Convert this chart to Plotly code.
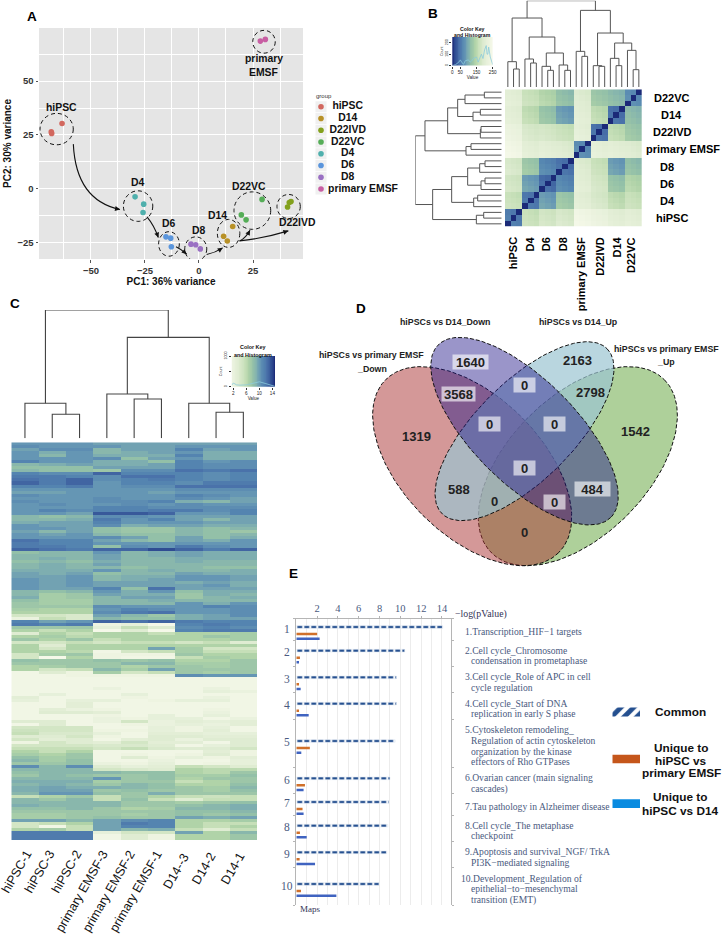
import numpy as np
import plotly.graph_objects as go

W, H = 723, 937
SANS = "Liberation Sans"
SERIF = "Liberation Serif"

# ---------- Panel A data ----------
GROUPS = ["hiPSC", "D14", "D22IVD", "D22VC", "D4", "D6", "D8", "primary EMSF"]
GROUP_COLORS = ["#d2685f", "#b89127", "#83a11d", "#55ad57", "#4fb0ad", "#5a95dc", "#9a70c3", "#c85ea3"]
PC1 = {
    "hiPSC": [-68.4, -68.2, -63.4], "D14": [15.6, 11.4, 13.1], "D22IVD": [42.6, 41.8, 41.0],
    "D22VC": [29.2, 19.6, 21.8], "D4": [-29.6, -25.6, -25.9], "D6": [-15.3, -13.1, -12.8],
    "D8": [-3.7, -1.5, 0.6], "primary EMSF": [28.4, 30.7],
}
PC2 = {
    "hiPSC": [26.4, 25.7, 30.3], "D14": [-17.6, -22.1, -24.3], "D22IVD": [-6.0, -6.4, -8.5],
    "D22VC": [-5.0, -12.2, -14.5], "D4": [-3.8, -7.2, -11.1], "D6": [-22.4, -23.0, -27.0],
    "D8": [-25.8, -26.1, -28.0], "primary EMSF": [68.6, 69.4],
}
# ---------- Panel B data ----------
B_ORDER = ["hiPSC", "D4", "D6", "D8", "primary EMSF", "D22IVD", "D14", "D22VC"]
B_DIST = [
    [55, 165, 178, 185, 240, 225, 205, 205],
    [165, 50, 85, 125, 205, 185, 155, 165],
    [178, 85, 40, 65, 205, 180, 120, 145],
    [185, 125, 65, 45, 195, 165, 85, 115],
    [240, 205, 205, 195, 70, 210, 205, 195],
    [225, 185, 180, 165, 210, 45, 155, 125],
    [205, 155, 120, 85, 205, 155, 45, 110],
    [205, 165, 145, 115, 195, 125, 110, 70],
]
B_SAMPLE_SHIFT = [4, 0, -4]
B_TREE = (259,
          (207, (76, 0, (54, 1, 2)),
           (150, (84, 3, (72, 4, 5)), (102, (62, 6, (50, 7, 8)), (66, 9, (50, 10, 11))))),
          (230, (107, 12, (92, 13, 14)),
           (162, (64, 15, (62, 16, 17)), (132, (86, 18, (64, 19, 20)), (110, 21, (52, 22, 23))))))
B_HIST_X = [0, 20, 40, 50, 60, 70, 80, 100, 110, 120, 130, 150, 160, 170, 180, 190, 200, 210, 215, 220, 225, 235, 245, 250]
B_HIST_Y = [0, 8, 30, 50, 25, 12, 42, 50, 30, 40, 62, 75, 30, 70, 100, 62, 138, 175, 100, 100, 162, 75, 25, 8]
# ---------- Panel C data ----------
C_COLS = ["hiPSC-1", "hiPSC-3", "hiPSC-2", "primary EMSF-3", "primary EMSF-2", "primary EMSF-1", "D14--3", "D14-2", "D14-1"]
C_TREE = (385, (105, 0, (72, 1, 2)), (303, (133, 3, (118, 4, 5)), (105, 6, (78, 7, 8))))
C_HIST_X = [1.5, 2, 3, 4, 6, 8, 10, 12, 14, 14.8]
C_HIST_Y = [0.05, 0.12, 0.06, 0.05, 0.06, 0.12, 0.16, 0.1, 0.03, 0.01]
C_ROWS = [
[9.5,9.5,9.5,9,9,9,9,9,9],[10,9.5,9.5,9.5,9,9,9.5,9.5,9.5],[9,10,10,8,9,9,10.5,9,9.5],[9.5,8.5,9.5,8,8.5,9,9.5,8.5,8.5],
[9.5,8,9.5,8.5,8.5,8.5,10.5,8.5,8.5],[9.5,9.5,9.5,10,7.5,9,9.5,8.5,8.5],[10.5,9.5,9.5,8.5,8.5,7.5,10.5,9.5,10],[8,8.5,9,8.5,8.5,9,10.5,10,10],
[7.5,7.5,7.5,9,9,9,10.5,10,10],[8,7.5,7.5,7,10,10,11.5,11,11.5],[10.5,10,10,12,10.5,10.5,10.5,10,10.5],[11,11,10.5,10,11.5,11.5,10.5,10,10.5],
[11.5,11,12,10,10.5,11,10.5,10,10.5],[12,11,12,9.5,10.5,10.5,10,11,11],[10.5,10.5,11,9.5,10,10,11.5,11.5,11.5],[9.5,9.5,9.5,9.5,9.5,9.5,10,10,10],
[9,9,9.5,9.5,9.5,9,9.5,9.5,9.5],[10,9.5,9.5,9.5,9.5,9.5,10.5,10,9.5],[9.5,9.5,9.5,10,9.5,9.5,10,9.5,9],[10,9.5,9.5,10,10,10.5,8.5,8,9],
[9.5,10,9.5,9.5,10,9.5,10,9.5,9.5],[9.5,9.5,9.5,10.5,10.5,10,10,10,10],[9.5,10.5,10,10.5,10.5,11,11,10,10.5],[9.5,9.5,9,12.5,12.5,12,9.5,9.5,10.5],
[8,7.5,8,10,10,9.5,9,9,9],[8,8,8.5,11,9.5,10.5,9,8,9],[8.5,9,9,10.5,9.5,9.5,9.5,9,9],[9.5,9,9,10,8.5,9,9,8.5,8.5],
[9.5,9.5,9,7.5,7,7,8,7.5,8],[9,8,9,7.5,7,7,8,7.5,7],[9.5,9,9.5,8,7.5,7.5,8,7.5,8],[9.5,9.5,9.5,10,9,7.5,9,7.5,8.5],
[11.5,10.5,10.5,9,8,7.5,9,8.5,9.5],[11,10.5,10.5,9.5,9.5,9.5,9.5,9.5,9.5],[11,11,10.5,7.5,10,9.5,11,10,9.5],[12,11.5,11,12,12,13,12,11,12],
[7.5,8,8,9.5,8,8.5,9,8.5,8.5],[8,8,8,9,8,8.5,9,8.5,8.5],[8,8.5,8,9,8,8,8.5,8.5,8.5],[7.5,8,7.5,8.5,8,8,8.5,8,8],
[8,8.5,8,9,8,8,8,8,8],[8,8.5,8,8,7.5,8,8,7.5,7.5],[8.5,8.5,8.5,9.5,8,8.5,8,8,8.5],[9,8.5,9,7.5,8,8,9,8.5,8.5],
[9,9,9.5,8,8.5,8.5,9.5,9.5,9],[9.5,9,9.5,8,8.5,9,9.5,9.5,9],[9.5,9,9.5,9,9,9,8.5,9,8.5],[9.5,9,9.5,9,9,9,9,9.5,8.5],
[9.5,9,9,10.5,7.5,11.5,9,9,9],[8,7.5,8,9.5,8.5,9.5,7.5,8.5,8.5],[8,6.5,7,9,8.5,8.5,7,8.5,8],[8.5,6.5,7,8,9,9,7,8,8.5],
[7.5,6.5,6.5,8,8,8.5,8,8,8],[7,6.5,6.5,8,8,8,9.5,8.5,9.5],[7,7,7,10,9.5,9.5,9.5,10.5,10],[6.5,6,6,9.5,10.5,10,9.5,9.5,10],
[6,6,6,10,11,11.5,9.5,9.5,10],[4,4,3.5,9,8,7,8.5,9,10],[1.5,5,3.5,8,7.5,7.5,8.5,9,9],[10.5,9,9.5,12,11.5,12,11,10.5,10.5],
[11,10.5,11,1,2,0,10.5,11,10.5],[7,7,7,2,5,3,10,10.5,10],[6,5,6,0,3,0,10.5,11,11],[3,6,5,6,6,5,6,6,6.5],
[6,6.5,5.5,6,6,6,6,7,6.5],[7,6,7,5,6,6,6,6,6.5],[4,4,5,4,5,5,4,5,3],[6,3,6,6,6,6,6,6,6],
[6,4,6,6,6,9,6.5,4,4],[6,6,5.5,0.5,4,5,6.5,5,5],[4,6.5,7,1,1,1,7,6,6],[4,0,6,1,0.5,0.5,5,6.5,6],
[7.5,7,7,7.5,7,7.5,6,6,7],[7,7,7,7,8,8,6.5,6.5,7],[6,6.5,7,7,6,7,7,6.5,7],[6,4,5,8,6.5,9,7,7,7],
[0.5,3,1,6.5,4,5,7,6.5,7],[0.5,0.5,1,1,1,1,10,9.5,9.5],[0.5,0.5,0.5,0.5,0.5,0.5,0.5,0.5,0.5],[0.5,0.5,0.5,0.5,0.5,0.5,0.5,0.5,0.5],
[0.5,0.5,0.5,0.5,0.5,0.5,0.5,0.5,0.5],[0.5,0.5,0.5,1.5,0.5,0.5,0.5,1.5,0.5],[0.5,0.5,0.5,0.5,0.5,0.5,0.5,2,1.5],[0.5,2,0.5,0.5,2,0.5,0.5,0.5,0.5],
[2.5,0.5,0.5,0.5,1,0.5,0.5,1.5,0.5],[2,0.5,2,2,0.5,1,2,2,0.5],[0.5,0.5,2.5,0.5,0.5,0.5,0.5,0.5,0.5],[0.5,0.5,2.5,0.5,0.5,0.5,0.5,0.5,0.5],
[0.5,2.5,1.5,1,0.5,0.5,0.5,1,0.5],[0.5,3,3,2.5,0.5,0.5,0.5,1.5,0.5],[0.5,0.5,0.5,1,0.5,2,0.5,2,0.5],[0.5,0.5,0.5,1.5,1,2,2,0.5,1.5],
[3,3,0.5,1.5,4,1.5,2.5,2,2.5],[0.5,3,0.5,0.5,1,1.5,2,1.5,2.5],[4,4,4,0.5,0.5,2,1,2,0.5],[4.5,4,4,1,1,2,1,2.5,0.5],
[5,3.5,3.5,2,0.5,2.5,2.5,2,2],[3,3,4,1,0.5,3,3,2.5,2.5],[4,2.5,3,0.5,2.5,3,1.5,3,3],[1,4,3,2.5,4,2.5,2.5,0.5,3],
[4,4,4,3.5,3.5,3,0.5,2,3],[5,5,5,4,5,3.5,3,3,4],[6,5,6,0.5,0.5,0.5,0.5,2.5,1],[6.5,6,7,0.5,1,0.5,1,3,1],
[7.5,6.5,7,0.5,3,1,2,1,2.5],[8,6.5,7.5,0.5,0.5,1.5,0.5,0.5,2],[7,7,7.5,1.5,1,2,0.5,1,2],[10,8,10,3,2,2.5,5,4,3],
[8,8,8,4,3.5,3,6,5.5,5.5],[7.5,8,8,8,7.5,7.5,6,5.5,7],[7,8,7.5,7,7,7.5,6.5,6.5,7.5],[8,8,8,9.5,7,7.5,6,7,7],
[8.5,8.5,8.5,6.5,7,7,5,6,7],[8,8.5,8,7,8,7.5,6,6,7.5],[8.5,9,8.5,8.5,8,7.5,7,6.5,8],[8.5,9,9,7,7.5,7,7,6.5,7.5],
[8,9.5,9.5,7.5,7,8.5,7,7,7],[5,6,7,5,7,6,5,4.5,5],[8,7,8,5,7.5,5,3,5,5],[8,8,8,8,7,7,6.5,7,7.5],
[8.5,8,8,8,7,7,7.5,8,8.5],[7.5,7.5,8,7,6,6.5,8,8,8.5],[7,7,7,7,7,7,7.5,7.5,8],[6.5,6.5,7,7,6.5,7,7.5,7,7.5],
[6.5,6.5,7,7.5,7,7,9,8.5,9],[9,9,8,9,10,10.5,6,6,6.5],[4,5,6,9,11,10.5,6,5,5],[4,0.5,5,9,10.5,10.5,6,5,6],
[6,6.5,5,9,8,8.5,5,3,5],[11,11,11,2,4,4,9,6,8],[11,11,11,0.5,3,1,6,6,7],[11,11,11,0.5,3,1,6,6,7],
]
# ---------- Panel D data ----------
VENN_SETS = ["hiPSCs vs primary EMSF_Up", "hiPSCs vs primary EMSF_Down", "hiPSCs vs D14_Up", "hiPSCs vs D14_Down"]
VENN_ELLIPSES = [(833.5, 498.5, 367, 209, -45), (516.5, 498.5, 367, 209, 45),
                 (673.5, 393.5, 350, 147, -45), (673.5, 393.5, 366, 156, 45)]
VENN_FILLS = ["rgba(93,161,53,0.5)", "rgba(169,49,49,0.5)", "rgba(155,196,210,0.7)", "rgba(31,20,135,0.45)"]
VENN_COUNTS = ["1640", "2163", "3568", "0", "2798", "1319", "1542", "0", "0", "0", "588", "484", "0", "0", "0"]
VENN_X = [512, 832, 476, 674, 872, 349, 1005, 569, 764, 674, 476, 878, 584, 762, 674]
VENN_Y = [186, 180, 281, 254, 277, 408, 393, 371, 371, 503, 568, 567, 605, 605, 698]
VENN_BOX = [35, 0, 33, 21, 0, 0, 0, 21, 21, 21, 0, 35, 0, 21, 0]
# ---------- Panel E data ----------
E_COMMON = [14.07, 10.42, 9.62, 9.62, 9.49, 9.0, 8.9, 8.8, 8.69, 7.95]
E_EMSF = [2.0, 0.35, 0.26, 0.26, 1.3, 0.83, 0.6, 0.35, 0.32, 0.45]
E_D14 = [2.24, 0.26, 0.42, 1.19, 0.48, 0.7, 0.7, 1.0, 1.8, 3.85]
E_NAMES = ["1", "2", "3", "4", "5", "6", "7", "8", "9", "10"]
E_BOUNDS = [86, 150, 230, 308, 388, 532, 610, 676, 754, 833, 945]
E_BAR_ROW = [111, 182, 262, 341, 453, 565, 636, 707, 787, 882]
E_NAME_ROW = [116, 187, 266, 345, 457, 569, 640, 712, 791, 887]
E_TERMS = [
    ["1.Transcription_HIF\u22121 targets"],
    ["2.Cell cycle_Chromosome", "condensation in prometaphase"],
    ["3.Cell cycle_Role of APC in cell", "cycle regulation"],
    ["4.Cell cycle_Start of DNA", "replication in early S phase"],
    ["5.Cytoskeleton remodeling_", "Regulation of actin cytoskeleton", "organization by the kinase", "effectors of Rho GTPases"],
    ["6.Ovarian cancer (main signaling", "cascades)"],
    ["7.Tau pathology in Alzheimer disease"],
    ["8.Cell cycle_The metaphase", "checkpoint"],
    ["9.Apoptosis and survival_NGF/ TrkA", "PI3K\u2212mediated signaling"],
    ["10.Development_Regulation of", "epithelial\u2212to\u2212mesenchymal", "transition (EMT)"],
]
E_TERM_Y = [125, 180, 259, 339, 418, 563, 650, 705, 785, 864]

# ---------- shared palette ----------
PAL = [(0, "#f5f8e9"), (3, "#dfecd2"), (5, "#c6dfb8"), (6, "#b0d3a8"), (7.5, "#93c0a8"), (8.5, "#7eaeb0"),
       (9.5, "#6596b4"), (10.5, "#5484b0"), (11.5, "#4a72aa"), (13, "#2f4c92"), (14, "#1b2a78")]
SCALE_C = [[v / 14, c] for v, c in PAL]
SCALE_B = sorted([[1 - v / 14, c] for v, c in PAL], key=lambda s: s[0])

fig = go.Figure()
layout = {}
notes = []
shapes = []


def axes(n, left, right, top, bottom, xo=None, yo=None):
    s = "" if n == 1 else str(n)
    x = dict(domain=[left / W, right / W], anchor="y" + s, showgrid=False, zeroline=False, visible=False, automargin=False)
    y = dict(domain=[1 - bottom / H, 1 - top / H], anchor="x" + s, showgrid=False, zeroline=False, visible=False, automargin=False)
    x.update(xo or {})
    y.update(yo or {})
    layout["xaxis" + s] = x
    layout["yaxis" + s] = y
    return dict(xaxis="x" + s, yaxis="y" + s)


def note(text, px, py, size=10, bold=False, color="#111111", family=SANS, angle=0, xa="center", ya="middle"):
    notes.append(dict(text=text, x=px / W, y=1 - py / H, xref="paper", yref="paper", showarrow=False,
                      xanchor=xa, yanchor=ya, textangle=angle,
                      font=dict(size=size, color=color, family=family, weight="bold" if bold else "normal")))


def dendro(node, xs, ys):
    if not isinstance(node, tuple):
        return node, 0
    h, l, r = node
    pl, hl = dendro(l, xs, ys)
    pr, hr = dendro(r, xs, ys)
    xs += [pl, pl, pr, pr, None]
    ys += [hl, h, h, hr, None]
    return (pl + pr) / 2, h


for txt, x, y in [("A", 32, 16), ("B", 433, 13), ("C", 15, 303), ("D", 361, 308), ("E", 293, 573)]:
    note(txt, x, y, size=13.5, bold=True, color="#000000")

# ---------- Panel A ----------
tickf = dict(size=9.5, family=SANS, color="#333333", weight="bold")
titlef = dict(size=10, family=SANS, color="#111111", weight="bold")
a = axes(1, 39, 303, 28, 259,
         dict(visible=True, range=[-74.07, 48.15], tickvals=[-50, -25, 0, 25], showgrid=True, gridcolor="white",
              gridwidth=1, ticks="outside", ticklen=2.5, tickcolor="#555555", tickfont=tickf,
              minor=dict(tickvals=[-62.5, -37.5, -12.5, 12.5, 37.5], showgrid=True, gridcolor="white", gridwidth=0.5, ticks=""),
              title=dict(text="PC1: 36% variance", font=titlef, standoff=3)),
         dict(visible=True, range=[-32.7, 74.7], tickvals=[-25, 0, 25, 50], showgrid=True, gridcolor="white",
              gridwidth=1, ticks="outside", ticklen=2.5, tickcolor="#555555", tickfont=tickf,
              minor=dict(tickvals=[-12.5, 12.5, 37.5, 62.5], showgrid=True, gridcolor="white", gridwidth=0.5, ticks=""),
              title=dict(text="PC2: 30% variance", font=titlef, standoff=3)))
shapes.append(dict(type="rect", xref="x domain", yref="y domain", x0=0, x1=1, y0=0, y1=1, fillcolor="#e5e5e5",
                   line_width=0, layer="below"))
for g, c in zip(GROUPS, GROUP_COLORS):
    fig.add_trace(go.Scatter(x=PC1[g], y=PC2[g], mode="markers", name=g, showlegend=False,
                             marker=dict(size=5.6, color=c), **a))
A_RINGS = [(-65.9, 27.7, 7.7, 7.3), (-28.2, -8.1, 6.8, 7.1), (-13.9, -25.7, 4.8, 5.7), (-1.5, -28, 5.1, 5.6),
           (13.7, -20.8, 5.2, 6.5), (24.7, -10.2, 8.5, 8.7), (41.5, -8.3, 5.4, 5.6), (30.1, 68.3, 5.2, 5.3)]
for cx, cy, rx, ry in A_RINGS:
    shapes.append(dict(type="circle", xref="x", yref="y", x0=cx - rx, x1=cx + rx, y0=cy - ry, y1=cy + ry,
                       line=dict(color="#111111", width=1, dash="4px,3px"), layer="above"))


def zx(z):
    return (z / 3 - 199) / 2.16


def zy(z):
    return (188.5 - z / 3) / 2.15


A_ARROWS = [((220, 432), (228, 600), (360, 628)), ((441, 650), (462, 675), (475, 712)), ((528, 740), (545, 748), (560, 762)),
            ((620, 763), (645, 758), (668, 743)), ((720, 722), (738, 712), (750, 690)), ((718, 722), (790, 715), (865, 692))]
for p0, p1, p2 in A_ARROWS:
    shapes.append(dict(type="path", xref="x", yref="y", line=dict(color="#111111", width=1.1),
                       path=f"M {zx(p0[0])} {zy(p0[1])} Q {zx(p1[0])} {zy(p1[1])} {zx(p2[0])} {zy(p2[1])}"))
    d = np.hypot(p2[0] - p1[0], p2[1] - p1[1])
    notes.append(dict(x=zx(p2[0]), y=zy(p2[1]), xref="x", yref="y", text="", showarrow=True, arrowhead=2, arrowsize=0.9,
                      arrowwidth=1.1, arrowcolor="#111111", ax=-(p2[0] - p1[0]) / d * 6, ay=-(p2[1] - p1[1]) / d * 6))
A_LABELS = [("primary", 791, 177), ("EMSF", 791, 217), ("hiPSC", 183, 321), ("D4", 414, 546), ("D6", 507, 670),
            ("D8", 597, 692), ("D14", 652, 646), ("D22VC", 747, 559), ("D22IVD", 892, 669)]
for t, x, y in A_LABELS:
    note(t, x / 3, y / 3, size=10.4, bold=True)

al = axes(2, 315, 400, 100.8, 194.9, dict(range=[315, 400]),
          dict(type="category", categoryorder="array", categoryarray=GROUPS, range=[7.5, -0.5]))
fig.add_trace(go.Scatter(x=[321] * 8, y=GROUPS, mode="markers", showlegend=False,
                         marker=dict(size=11, symbol="square", color="#f0f0f0"), **al))
fig.add_trace(go.Scatter(x=[321] * 8, y=GROUPS, mode="markers", showlegend=False,
                         marker=dict(size=5.6, color=GROUP_COLORS), **al))
fig.add_trace(go.Scatter(x=[347.7] * 7 + [363], y=GROUPS, text=GROUPS, mode="text", textposition="middle center",
                         showlegend=False, textfont=dict(size=10.4, family=SANS, color="#111111", weight="bold"), **al))
note("group", 324, 96, size=6, color="#333333")

# ---------- Panel B ----------
n_b = len(B_ORDER) * 3
B_Z = [[0 if i == j else B_DIST[i // 3][j // 3] + B_SAMPLE_SHIFT[i % 3] + B_SAMPLE_SHIFT[j % 3]
        for j in range(n_b)] for i in range(n_b)]
bh = axes(3, 505, 641.7, 89.3, 226.7, dict(range=[-0.5, 23.5]), dict(range=[-0.5, 23.5]))
fig.add_trace(go.Heatmap(z=B_Z, colorscale=SCALE_B, zmin=0, zmax=250, showscale=False, **bh))
xs, ys = [], []
dendro(B_TREE, xs, ys)
bt = axes(4, 505, 641.7, 0.7, 87, dict(range=[-0.5, 23.5]), dict(range=[0, 259]))
fig.add_trace(go.Scatter(x=xs, y=ys, mode="lines", showlegend=False, line=dict(color="#555555", width=1), **bt))
bl = axes(5, 415.3, 501.7, 89.3, 226.7, dict(range=[259, 0]), dict(range=[-0.5, 23.5]))
fig.add_trace(go.Scatter(x=ys, y=xs, mode="lines", showlegend=False, line=dict(color="#555555", width=1), **bl))
small = dict(size=4.6, family=SANS, color="#222222")
bk = axes(6, 452.3, 492.7, 37, 65.6,
          dict(visible=True, range=[0, 250], tickvals=[0, 50, 150, 250], ticks="outside", ticklen=2, tickwidth=0.6,
               tickcolor="#333333", tickfont=small, title=dict(text="Value", font=small, standoff=1.5), showline=False),
          dict(visible=True, range=[0, 250], tickvals=[0, 100, 200], ticktext=["0", "100", "200"], ticks="outside", ticklen=2,
               tickwidth=0.6, tickcolor="#333333", tickangle=-90, tickfont=dict(size=3.6, family=SANS, color="#222222"),
               title=dict(text="Count", font=dict(size=3.6, family=SANS, color="#222222"), standoff=1)))
B_KEY_VALUES = list(range(0, 251, 5))
fig.add_trace(go.Heatmap(x=B_KEY_VALUES, y=[0, 250], z=[B_KEY_VALUES, B_KEY_VALUES], colorscale=SCALE_B, zmin=0, zmax=250,
                         showscale=False, **bk))
fig.add_trace(go.Scatter(x=B_HIST_X, y=B_HIST_Y, mode="lines", showlegend=False, line=dict(color="#8ccbdc", width=0.8), **bk))
note("Color Key", 472.5, 28.7, size=5.2, bold=True)
note("and Histogram", 472.5, 35, size=5.2, bold=True)
B_RIGHT_LABELS = ["D22VC", "D14", "D22IVD", "primary EMSF", "D8", "D6", "D4", "hiPSC"]
B_RIGHT_X = [671.7, 671.7, 672, 683, 667, 667, 667, 671.7]
for i, (t, x) in enumerate(zip(B_RIGHT_LABELS, B_RIGHT_X)):
    note(t, x, 97.9 + i * 17.17, size=11, bold=True, color="#000000")
B_BOTTOM_X = [513.3, 529, 546.3, 563.3, 581.3, 599.3, 616, 631]
for t, x in zip(B_ORDER, B_BOTTOM_X):
    note(t, x, 235, size=11, bold=True, color="#000000", angle=-90, ya="top")

# ---------- Panel C ----------
ch = axes(7, 11.3, 257, 442.3, 840, dict(range=[-0.5, 8.5]), dict(range=[len(C_ROWS) - 0.5, -0.5]))
fig.add_trace(go.Heatmap(z=C_ROWS, colorscale=SCALE_C, zmin=0, zmax=14, showscale=False, **ch))
xs, ys = [], []
dendro(C_TREE, xs, ys)
cd = axes(8, 11.3, 257, 310, 438.3, dict(range=[-0.5, 8.5]), dict(range=[0, 385]))
fig.add_trace(go.Scatter(x=xs, y=ys, mode="lines", showlegend=False, line=dict(color="#444444", width=1.1), **cd))
ck = axes(9, 231.7, 275, 356, 386.7,
          dict(visible=True, range=[1.5, 14.8], tickvals=[2, 6, 10, 14], ticks="outside", ticklen=2, tickwidth=0.6,
               tickcolor="#333333", tickfont=small, title=dict(text="Value", font=small, standoff=1.5)),
          dict(visible=True, range=[0, 1], tickvals=[0, 0.5, 1], ticktext=["0", "", "1000"], ticks="outside", ticklen=2,
               tickwidth=0.6, tickcolor="#333333", tickangle=-90, tickfont=dict(size=3.6, family=SANS, color="#222222"),
               title=dict(text="Count", font=dict(size=3.6, family=SANS, color="#222222"), standoff=1)))
C_KEY_VALUES = [1.5 + 0.25 * i for i in range(54)]
fig.add_trace(go.Heatmap(x=C_KEY_VALUES, y=[0, 1], z=[C_KEY_VALUES, C_KEY_VALUES], colorscale=SCALE_C, zmin=0.5, zmax=14.8,
                         showscale=False, **ck))
fig.add_trace(go.Scatter(x=C_HIST_X, y=C_HIST_Y, mode="lines", showlegend=False, line=dict(color="#8ccbdc", width=0.8), **ck))
note("Color Key", 253, 347.5, size=5.4, bold=True)
note("and Histogram", 253, 355, size=5.4, bold=True)
C_END_X = [37, 60, 87, 114, 141, 168, 195, 221, 250]
C_END_Y = [845, 845, 845, 845, 845, 845, 848, 848, 848]
for t, x, y in zip(C_COLS, C_END_X, C_END_Y):
    note(t, x, y, size=12.6, color="#111111", angle=-60, xa="right", ya="top")

# ---------- Panel D ----------
vn = axes(10, 300, 723, 300, 590, dict(range=[0, 1269]), dict(range=[870, 0]))
for name, (cx, cy, ra, rb, rot), fc in zip(VENN_SETS, VENN_ELLIPSES, VENN_FILLS):
    t = np.linspace(0, 2 * np.pi, 181)
    th = np.radians(rot)
    fig.add_trace(go.Scatter(x=cx + ra * np.cos(t) * np.cos(th) - rb * np.sin(t) * np.sin(th),
                             y=cy + ra * np.cos(t) * np.sin(th) + rb * np.sin(t) * np.cos(th),
                             mode="lines", fill="toself", fillcolor=fc, name=name, showlegend=False,
                             line=dict(color="#111111", width=1, dash="4px,2px"), **vn))
for t, x, y, b in zip(VENN_COUNTS, VENN_X, VENN_Y, VENN_BOX):
    d = dict(text=t, x=x, y=y, xref="x10", yref="y10", showarrow=False,
             font=dict(size=13, family=SANS, color="#222222", weight="bold"))
    if b:
        d.update(bgcolor="rgba(255,255,255,0.62)", width=b, height=14, borderpad=0)
    notes.append(d)
for t, x, y in [("hiPSCs vs D14_Down", 435, 67), ("hiPSCs vs D14_Up", 834, 67), ("hiPSCs vs primary EMSF", 215, 166),
                ("_Down", 215, 207), ("hiPSCs vs primary EMSF", 1098, 146), ("_Up", 1098, 187)]:
    note(t, 300 + x / 3, 300 + y / 3, size=8.8, bold=True, color="#222222")

# ---------- Panel E ----------
ink = "#4a5a80"
eb = axes(11, 296.3, 450.7, 618.7, 905,
          dict(visible=True, side="top", range=[0, 14.84], tickvals=list(range(2, 15, 2)), showline=True, linecolor="#b5b5b5",
               linewidth=1, ticks="outside", ticklen=2, tickcolor="#b5b5b5",
               tickfont=dict(size=10.5, family=SERIF, color=ink), showgrid=True, gridcolor="#ececec", gridwidth=0.6,
               minor=dict(dtick=1, showgrid=True, gridcolor="#ececec", gridwidth=0.6, ticks="")),
          dict(visible=True, range=[945, 86], tickvals=E_BOUNDS, ticktext=[""] * len(E_BOUNDS), showline=True,
               linecolor="#b5b5b5", linewidth=1.2, ticks="outside", ticklen=2, tickcolor="#b5b5b5", mirror="ticks"))
fig.add_trace(go.Bar(y=E_BAR_ROW, x=E_COMMON, orientation="h", width=8, showlegend=False, name="Common", opacity=1,
                     marker=dict(color="white", line=dict(color="#e3e9f1", width=0.6),
                                 pattern=dict(shape="|", fgcolor="#244f8f", bgcolor="#f4f7fa", size=7, solidity=0.68, fgopacity=1)), **eb))
fig.add_trace(go.Bar(y=[r + 21 for r in E_BAR_ROW], x=E_EMSF, orientation="h", width=7.5, showlegend=False, opacity=1,
                     name="Unique to hiPSC vs primary EMSF", marker=dict(color="#d0702a", line_width=0), **eb))
fig.add_trace(go.Bar(y=[r + 35 for r in E_BAR_ROW], x=E_D14, orientation="h", width=7.5, showlegend=False, opacity=1,
                     name="Unique to hiPSC vs D14", marker=dict(color="#3f63c0", line_width=0), **eb))
for t, r in zip(E_NAMES, E_NAME_ROW):
    note(t, 280 + 20 / 3, 590 + r / 3, size=11.5, family=SERIF, color=ink)
for lines, y0 in zip(E_TERMS, E_TERM_Y):
    for k, line in enumerate(lines):
        zxp = 571 if k else (540 if line.startswith("10") else 553)
        note(line, 278.5 + zxp / 3, 590 + (y0 + k * 32.5) / 3, size=9.6, family=SERIF, color=ink, xa="left")
note("\u2212log(pValue)", 278.5 + 522 / 3, 590 + 72 / 3, size=9.8, family=SERIF, color="#333355", xa="left")
note("Maps", 278.5 + 57 / 3, 590 + 958 / 3, size=9, family=SERIF, color="#333355", xa="left")

el = axes(12, 612.3, 640, 703.3, 813.3, dict(range=[0, 1]), dict(range=[670, 340]))
E_LEGEND_ROW = [366, 507, 641]
fig.add_trace(go.Bar(y=[E_LEGEND_ROW[0]], x=[1], orientation="h", width=27, showlegend=False, opacity=1,
                     marker=dict(color="white", line_width=0,
                                 pattern=dict(shape="/", fgcolor="#244f8f", bgcolor="white", size=9, solidity=0.55, fgopacity=1)), **el))
fig.add_trace(go.Bar(y=[E_LEGEND_ROW[1]], x=[1], orientation="h", width=26, showlegend=False, opacity=1,
                     marker=dict(color="#c5561b", line_width=0), **el))
fig.add_trace(go.Bar(y=[E_LEGEND_ROW[2]], x=[1], orientation="h", width=26, showlegend=False, opacity=1,
                     marker=dict(color="#0a8be0", line_width=0), **el))
for t, x, y in [("Common", 1200, 365), ("Unique to", 1203, 473), ("hiPSC vs", 1203, 513), ("primary EMSF", 1203, 550),
                ("Unique to", 1200, 620), ("hiPSC vs D14", 1200, 662)]:
    note(t, 280 + x / 3, 590 + y / 3, size=11.8, bold=True, color="#111111")

fig.update_layout(width=W, height=H, margin=dict(l=0, r=0, t=0, b=0), paper_bgcolor="white", plot_bgcolor="rgba(0,0,0,0)",
                  showlegend=False, barmode="overlay", annotations=notes, shapes=shapes, **layout)
fig.write_html("out.html", config={"displayModeBar": False},
               post_script="document.body.style.margin='0';document.body.style.overflow='hidden';")
